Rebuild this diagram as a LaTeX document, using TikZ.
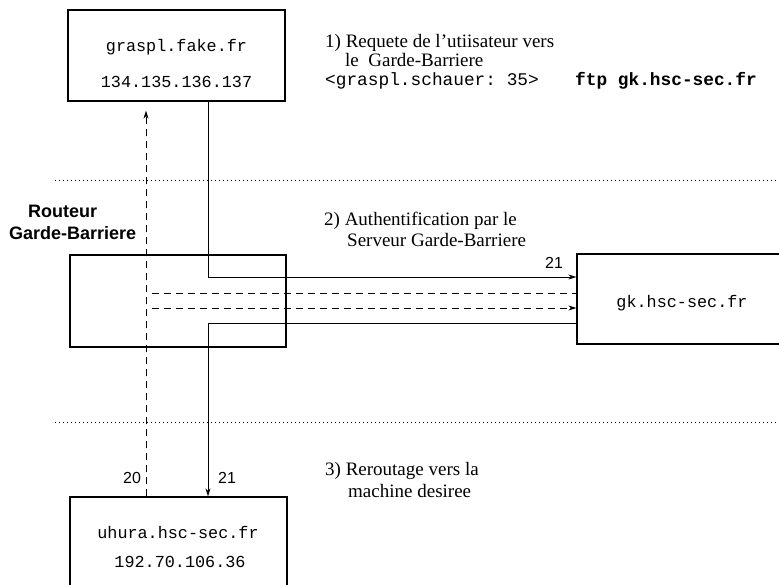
\documentclass[tikz,border=0pt]{standalone}
\usepackage{fontspec}
\setmainfont{Liberation Serif}
\setsansfont{Liberation Sans}
\setmonofont{Liberation Mono}
\usetikzlibrary{arrows.meta,calc}
\begin{document}
\begin{tikzpicture}[x=1pt,y=-1pt,
  box/.style={draw,line width=1.3pt,rectangle,inner sep=0pt},
  conn/.style={line width=0.8pt},
  dsh/.style={line width=0.8pt,dash pattern=on 7pt off 5pt},
  dotln/.style={line width=0.8pt,dash pattern=on 1pt off 3pt},
  tip/.style={-{Stealth[length=8pt,width=5pt]}},
  serif/.style={font=\fontsize{19}{22}\selectfont,inner sep=0pt,anchor=base west},
  mono/.style={font=\fontsize{16.8}{20}\selectfont\ttfamily,inner sep=0pt,anchor=base},
  cmd/.style={font=\fontsize{17.8}{21}\selectfont\ttfamily,inner sep=0pt,anchor=base west},
  cmdb/.style={font=\fontsize{17.8}{21}\selectfont\ttfamily\bfseries,inner sep=0pt,anchor=base west},
  rt/.style={font=\fontsize{18}{21}\selectfont\sffamily\bfseries,inner sep=0pt,anchor=base west},
  lab/.style={font=\fontsize{16}{19}\selectfont\sffamily,inner sep=0pt,anchor=base west}]
\useasboundingbox (0,0) rectangle (779,585);
\clip (0,0) rectangle (779,585);

% boxes
\node[box,minimum width=217pt,minimum height=91pt] (top) at (176.5,55.5) {};
\node[box,minimum width=216pt,minimum height=92pt] (rtr) at (178,301) {};
\node[box,minimum width=210pt,minimum height=90pt] (gk) at (682,299) {};
\node[box,minimum width=217pt,minimum height=110pt] (bot) at (178.5,552) {};

% box texts
\node[mono] (t1) at (176.5,52) {graspl.fake.fr};
\node[mono] (t2) at (176.5,88) {134.135.136.137};
\node[mono] (t3) at (682,308) {gk.hsc-sec.fr};
\node[mono] (t4) at (178,538) {uhura.hsc-sec.fr};
\node[mono] (t5) at (180,567) {192.70.106.36};

% step texts
\node[serif] (s1a) at (325,48) {1) Requete de l'utiisateur vers};
\node[serif] (s1b) at (345,67) {le\ \ Garde-Barriere};
\node[cmd] (s1c) at (325,86) {<graspl.schauer: 35>};
\node[cmdb] (s1d) at (575,86) {ftp gk.hsc-sec.fr};
\node[serif] (s2a) at (324,226) {2) Authentification par le};
\node[serif] (s2b) at (347,247) {Serveur Garde-Barriere};
\node[serif] (s3a) at (325,475) {3) Reroutage vers la};
\node[serif] (s3b) at (348,497) {machine desiree};

% router label
\node[rt] (r1) at (28,218) {Routeur};
\node[rt] (r2) at (9,240) {Garde-Barriere};

% port labels
\node[lab] (p21a) at (545,269) {21};
\node[lab] (p20) at (123,483) {20};
\node[lab] (p21b) at (218,483) {21};

% dotted separators
\coordinate (d1l) at (55,180); \coordinate (d1r) at (779,180);
\coordinate (d2l) at (55,422); \coordinate (d2r) at (779,422);
\draw[dotln] (d1l) -- (d1r);
\draw[dotln] (d2l) -- (d2r);

% connectors
\coordinate (xs) at (208,0);
\coordinate (xd) at (146,0);
\coordinate (xd2) at (152,0);
\coordinate (ya) at (0,277);
\coordinate (yb) at (0,293);
\coordinate (yc) at (0,308);
\coordinate (yd) at (0,323);
\draw[conn,tip] (top.south -| xs) |- (gk.west |- ya);
\draw[dsh] (xd2 |- yb) -- (gk.west |- yb);
\draw[dsh,tip] (xd2 |- yc) -- (gk.west |- yc);
\draw[conn,tip] (gk.west |- yd) -| (bot.north -| xs);
\draw[dsh,tip,shorten >=9pt] (bot.north -| xd) -- (top.south -| xd);
\end{tikzpicture}
\end{document}
